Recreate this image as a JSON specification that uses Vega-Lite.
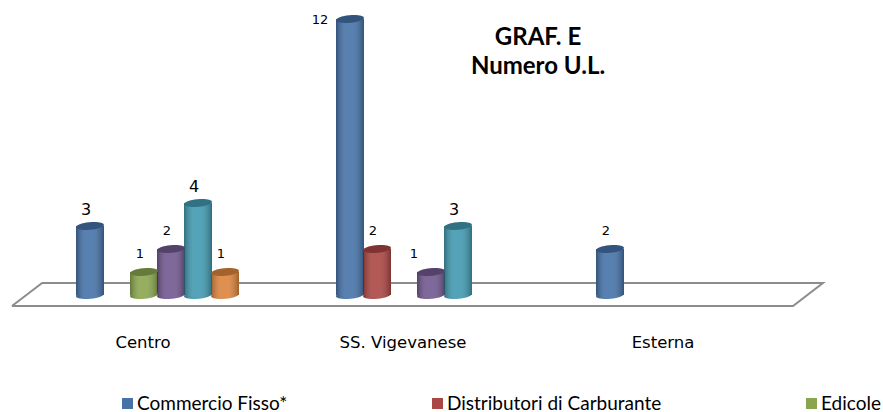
{
"$schema":"https://vega.github.io/schema/vega-lite/v6.json",
"width":883,"height":412,"padding":0,"autosize":{"type":"none"},
"background":"white",
"config":{"view":{"stroke":null}},
"title":{"text":["GRAF. E","Numero U.L."],"anchor":"start","align":"center","dx":538,"dy":79,"offset":0,"font":"Lato","fontWeight":"bold","fontSize":24,"lineHeight":29,"color":"#000000"},
"resolve":{"scale":{"x":"independent"}},
"layer":[
{"data":{"values":[
{"floorX":-0.504,"floorY":-0.478,"corner":1},
{"floorX":-0.388,"floorY":0.522,"corner":2},
{"floorX":2.615,"floorY":0.522,"corner":3},
{"floorX":2.5,"floorY":-0.478,"corner":4},
{"floorX":-0.504,"floorY":-0.478,"corner":5}]},
"mark":{"type":"line","stroke":"#8c8c8c","strokeWidth":2,"strokeJoin":"miter"},
"encoding":{
"x":{"field":"floorX","type":"quantitative","axis":null,"scale":{"domain":[-0.55,2.846],"nice":false,"zero":false}},
"y":{"field":"floorY","type":"quantitative","axis":null,"scale":{"domain":[-5.087,12.826],"nice":false,"zero":false}},
"order":{"field":"corner"}}},
{"data":{"values":[
{"zona":"Centro","serie":"Commercio Fisso*","valore":3},
{"zona":"Centro","serie":"Edicole","valore":1},
{"zona":"Centro","serie":"Serie 4","valore":2},
{"zona":"Centro","serie":"Serie 5","valore":4},
{"zona":"Centro","serie":"Serie 6","valore":1},
{"zona":"SS. Vigevanese","serie":"Commercio Fisso*","valore":12},
{"zona":"SS. Vigevanese","serie":"Distributori di Carburante","valore":2},
{"zona":"SS. Vigevanese","serie":"Serie 4","valore":1},
{"zona":"SS. Vigevanese","serie":"Serie 5","valore":3},
{"zona":"Esterna","serie":"Commercio Fisso*","valore":2}]},
"encoding":{
"x":{"field":"zona","type":"nominal","sort":["Centro","SS. Vigevanese","Esterna"],
"scale":{"type":"band","range":[13,793],"paddingInner":0,"paddingOuter":0},
"axis":{"title":null,"domain":false,"ticks":false,"labelAngle":0,"offset":-70,"labelPadding":0,"labelBaseline":"middle","labelFont":"DejaVu Sans","labelFontSize":16.5,"labelColor":"#000000"}},
"xOffset":{"field":"serie","type":"nominal","sort":["Commercio Fisso*","Distributori di Carburante","Edicole","Serie 4","Serie 5","Serie 6"],
"scale":{"type":"band","domain":["Commercio Fisso*","Distributori di Carburante","Edicole","Serie 4","Serie 5","Serie 6"],"range":[63.5,225.5],"paddingInner":0,"paddingOuter":0}},
"y":{"field":"valore","type":"quantitative","axis":null,"scale":{"domain":[-5.087,12.826],"nice":false,"zero":false}}
},
"layer":[
{"mark":{"type":"bar","width":28},
"encoding":{"color":{"field":"serie","type":"nominal",
"scale":{"domain":["Commercio Fisso*","Distributori di Carburante","Edicole","Serie 4","Serie 5","Serie 6"],"range":["#4572A7","#AA4643","#89A54E","#71588F","#4198AF","#DB843D"]},
"legend":{"title":null,"orient":"none","legendX":118,"legendY":394,"direction":"horizontal","columns":3,"gridAlign":"none","columnPadding":140,"values":["Commercio Fisso*","Distributori di Carburante","Edicole"],"symbolType":"square","symbolSize":120,"symbolStrokeWidth":0,"labelFont":"Lato","labelFontSize":19,"labelColor":"#000000","labelOffset":0,"labelLimit":300}}}},
{"mark":{"type":"bar","width":28,"fill":{"gradient":"linear","x1":0,"y1":0,"x2":1,"y2":0,"stops":[{"offset":0,"color":"rgba(0,0,0,0.28)"},{"offset":0.35,"color":"rgba(255,255,255,0.1)"},{"offset":0.6,"color":"rgba(255,255,255,0.1)"},{"offset":1,"color":"rgba(0,0,0,0.28)"}]}}},
{"mark":{"type":"point","filled":true,"opacity":1,"size":784,"shape":"M-1,0 A1,0.27 0 1,1 1,0 A1,0.27 0 1,1 -1,0 Z","angle":355},
"encoding":{"y":{"datum":0,"type":"quantitative"},"color":{"field":"serie","type":"nominal","legend":null}}},
{"mark":{"type":"point","filled":true,"opacity":1,"size":784,"shape":"M-1,0 A1,0.27 0 1,1 1,0 A1,0.27 0 1,1 -1,0 Z","angle":355,"fill":{"gradient":"linear","x1":0,"y1":0,"x2":1,"y2":0,"stops":[{"offset":0,"color":"rgba(0,0,0,0.28)"},{"offset":0.35,"color":"rgba(255,255,255,0.1)"},{"offset":0.6,"color":"rgba(255,255,255,0.1)"},{"offset":1,"color":"rgba(0,0,0,0.28)"}]}},
"encoding":{"y":{"datum":0,"type":"quantitative"}}},
{"mark":{"type":"point","filled":true,"opacity":1,"size":784,"shape":"M-1,0 A1,0.27 0 1,1 1,0 A1,0.27 0 1,1 -1,0 Z","angle":355},
"encoding":{"color":{"field":"serie","type":"nominal","legend":null}}},
{"mark":{"type":"point","filled":true,"opacity":0.25,"size":784,"shape":"M-1,0 A1,0.27 0 1,1 1,0 A1,0.27 0 1,1 -1,0 Z","angle":355,"fill":"#000000"}},
{"transform":[{"filter":"datum.valore == 1 && datum.zona == 'Centro' || datum.valore == 2"}],
"mark":{"type":"text","font":"DejaVu Sans","fontSize":13,"dx":-4,"dy":-18,"color":"#000000"},
"encoding":{"text":{"field":"valore","type":"quantitative"}}},
{"transform":[{"filter":"datum.valore == 3 || datum.valore == 4"}],
"mark":{"type":"text","font":"DejaVu Sans","fontSize":16,"dx":-4,"dy":-16,"color":"#000000"},
"encoding":{"text":{"field":"valore","type":"quantitative"}}},
{"transform":[{"filter":"datum.valore == 12"}],
"mark":{"type":"text","font":"DejaVu Sans","fontSize":13,"dx":-30,"dy":1,"color":"#000000"},
"encoding":{"text":{"field":"valore","type":"quantitative"}}},
{"transform":[{"filter":"datum.zona == 'SS. Vigevanese' && datum.serie == 'Serie 4'"}],
"mark":{"type":"text","font":"DejaVu Sans","fontSize":13,"dx":-17,"dy":-18,"color":"#000000"},
"encoding":{"text":{"field":"valore","type":"quantitative"}}}
]}
]}
